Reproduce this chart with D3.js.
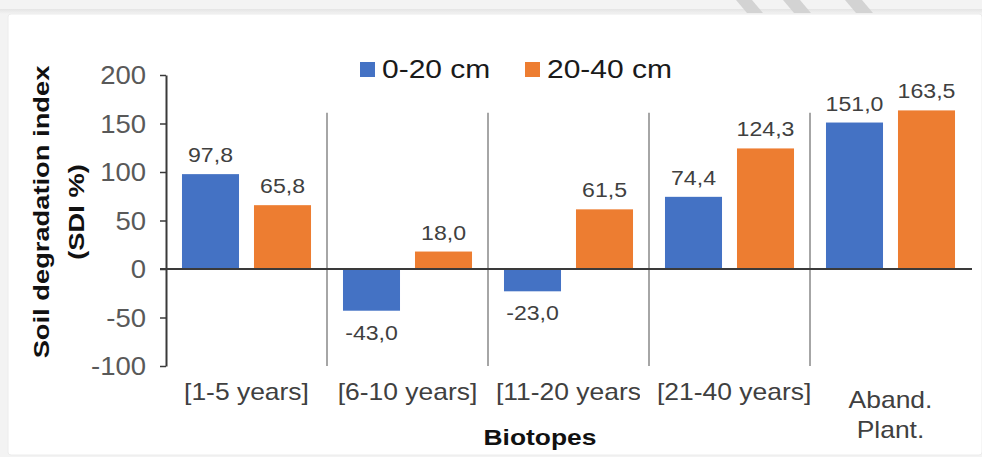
<!DOCTYPE html>
<html>
<head>
<meta charset="utf-8">
<script src="https://cdn.jsdelivr.net/npm/d3@7"></script>
<style>
  html, body { margin: 0; padding: 0; background: #ffffff; }
  svg { display: block; }
  text { font-family: "Liberation Sans", Arial, sans-serif; }
</style>
</head>
<body>
<svg id="chart" width="982" height="457"></svg>
<script>
// ---- data ----
const categories = ["[1-5 years]", "[6-10 years]", "[11-20 years]", "[21-40 years]", "Aband.\nPlant."];
const series = ["0-20 cm", "20-40 cm"];
const values0to20 = [97.8, -43.0, -23.0, 74.4, 151.0];
const values20to40 = [65.8, 18.0, 61.5, 124.3, 163.5];
const yTicks = [-100, -50, 0, 50, 100, 150, 200];
const yTitleLines = ["Soil degradation index", "(SDI %)"];
const xTitle = "Biotopes";

// ---- styles ----
const colors = ["#4472C4", "#ED7D31"];
const W = 982, H = 457;

const svg = d3.select("#chart");

// ---- page decoration (screenshot frame) ----
svg.append("rect").attr("x", 0).attr("y", 0).attr("width", W).attr("height", H).attr("fill", "#f3f3f3");
const defs = svg.append("defs");
const grad = defs.append("linearGradient").attr("id", "topShadow").attr("x1", 0).attr("y1", 0).attr("x2", 0).attr("y2", 1);
grad.append("stop").attr("offset", "0%").attr("stop-color", "#e4e4e4");
grad.append("stop").attr("offset", "100%").attr("stop-color", "#f3f3f3");
svg.append("rect").attr("x", 0).attr("y", 9).attr("width", W).attr("height", 5).attr("fill", "url(#topShadow)");
svg.append("rect").attr("x", 8).attr("y", 14).attr("width", W - 8).attr("height", H - 16)
  .attr("rx", 3).attr("fill", "#ffffff").attr("stroke", "#ececec").attr("stroke-width", 1);
[[736, 752], [783, 800], [845, 862]].forEach(([a, b]) => {
  svg.append("path")
    .attr("d", `M${a},0 L${b},0 L${b + 11},13 L${a + 11},13 Z`)
    .attr("fill", "#d3d3d3");
});

// ---- scales ----
const x = d3.scaleBand().domain(categories).range([166, 971]).paddingInner(0).paddingOuter(0);
const x1 = d3.scaleBand().domain(series).range([0, x.bandwidth()]).paddingInner(0.208).paddingOuter(0.222);
const y = d3.scaleLinear().domain([-100, 200]).range([366, 75]);

const locale = d3.formatLocale({ decimal: ",", thousands: ".", grouping: [3], currency: ["", ""], minus: "-" });
const fmt = locale.format(".1f");

const rows = categories.map((c, i) => ({
  cat: c,
  values: [
    { s: series[0], v: values0to20[i], color: colors[0] },
    { s: series[1], v: values20to40[i], color: colors[1] }
  ]
}));

// ---- category separators ----
const sepTop = 161; // value level where separators start
svg.append("g").selectAll("line")
  .data(categories.slice(1))
  .join("line")
  .attr("x1", d => x(d)).attr("x2", d => x(d))
  .attr("y1", y(sepTop)).attr("y2", y(-100))
  .attr("stroke", "#a6a6a6").attr("stroke-width", 2);

// ---- bars ----
const groups = svg.append("g").selectAll("g")
  .data(rows).join("g")
  .attr("transform", d => `translate(${x(d.cat)},0)`);

groups.selectAll("rect")
  .data(d => d.values).join("rect")
  .attr("x", d => x1(d.s))
  .attr("width", x1.bandwidth())
  .attr("y", d => y(Math.max(0, d.v)))
  .attr("height", d => Math.abs(y(d.v) - y(0)))
  .attr("fill", d => d.color);

// ---- data labels ----
groups.selectAll("text")
  .data(d => d.values).join("text")
  .attr("transform", d => {
    const cx = x1(d.s) + x1.bandwidth() / 2;
    const by = d.v >= 0 ? y(d.v) - 12 : y(d.v) + 29;
    return `translate(${cx},${by}) scale(1.1,1)`;
  })
  .attr("text-anchor", "middle")
  .attr("font-size", "21px")
  .attr("fill", "#404040")
  .text(d => fmt(d.v));

// ---- y axis ----
const yAxis = svg.append("g")
  .attr("transform", "translate(166,0)")
  .call(d3.axisLeft(y).tickValues(yTicks).tickSize(6).tickSizeOuter(0).tickFormat(d => String(d)));
yAxis.select(".domain").attr("stroke", "#3a3a3a").attr("stroke-width", 2);
yAxis.selectAll(".tick line").attr("stroke", "#3a3a3a").attr("stroke-width", 1.5);
yAxis.selectAll(".tick text")
  .attr("x", null).attr("dy", null)
  .attr("transform", "translate(-20,8.5) scale(1.1,1)")
  .attr("text-anchor", "end")
  .attr("font-size", "25px")
  .attr("font-family", "'Liberation Sans', Arial, sans-serif")
  .attr("fill", "#595959");

// ---- zero line ----
svg.append("line")
  .attr("x1", 160).attr("x2", 972)
  .attr("y1", y(0)).attr("y2", y(0))
  .attr("stroke", "#3a3a3a").attr("stroke-width", 2);

// ---- x axis labels ----
const bw = x.bandwidth();
const xScaleText = 1.15;
const xAxis = svg.append("g")
  .attr("transform", "translate(0,400)")
  .call(d3.axisBottom(x).tickSize(0).tickSizeOuter(0));
xAxis.select(".domain").remove();
const xTexts = xAxis.selectAll(".tick text")
  .attr("y", null).attr("dy", null)
  .attr("font-size", "23px")
  .attr("font-family", "'Liberation Sans', Arial, sans-serif")
  .attr("fill", "#404040")
  .each(function (d) {
    const lines = d.split("\n");
    const t = d3.select(this).text(null);
    if (lines.length === 1) {
      t.text(lines[0]);
    } else {
      lines.forEach((ln, i) => {
        t.append("tspan").attr("x", 0).attr("y", 8 + i * 30).text(ln);
      });
    }
  });

// label layout: overflowing labels start at band start; clip before the next label
const lefts = [];
xTexts.each(function (d, i) {
  const w = this.getBBox().width * xScaleText;
  const el = d3.select(this);
  if (w > bw - 10) {
    el.attr("text-anchor", "start").attr("transform", `translate(${-bw / 2 + 8},0) scale(${xScaleText},1)`);
    lefts[i] = x(d) + 8;
  } else {
    el.attr("transform", `scale(${xScaleText},1)`);
    lefts[i] = x(d) + bw / 2 - w / 2;
  }
});
xAxis.selectAll(".tick").each(function (d, i) {
  const nextLeft = i < categories.length - 1 ? lefts[i + 1] - 17 : 982;
  const cx = x(d) + bw / 2;
  const id = "xclip" + i;
  defs.append("clipPath").attr("id", id)
    .append("rect").attr("x", -bw).attr("y", -40).attr("width", bw + (nextLeft - cx)).attr("height", 90);
  d3.select(this).attr("clip-path", `url(#${id})`);
});

// ---- axis titles ----
svg.append("text")
  .attr("transform", "translate(540,445) scale(1.2,1)")
  .attr("text-anchor", "middle")
  .attr("font-size", "22px").attr("font-weight", "bold")
  .attr("fill", "#111111")
  .text(xTitle);

svg.append("g").selectAll("text")
  .data(yTitleLines).join("text")
  .attr("transform", (d, i) => `translate(${49 + i * 35},212) rotate(-90) scale(1.27,1)`)
  .attr("text-anchor", "middle")
  .attr("font-size", "21.5px").attr("font-weight", "bold")
  .attr("fill", "#111111")
  .text(d => d);

// ---- legend ----
const legendX = [360, 525];
const legend = svg.append("g").selectAll("g")
  .data(series).join("g")
  .attr("transform", (d, i) => `translate(${legendX[i]},62)`);
legend.append("rect").attr("width", 15).attr("height", 15).attr("fill", (d, i) => colors[i]);
legend.append("text")
  .attr("transform", "translate(22,16) scale(1.2,1)")
  .attr("font-size", "25px")
  .attr("fill", "#1a1a1a")
  .text(d => d);
</script>
</body>
</html>
